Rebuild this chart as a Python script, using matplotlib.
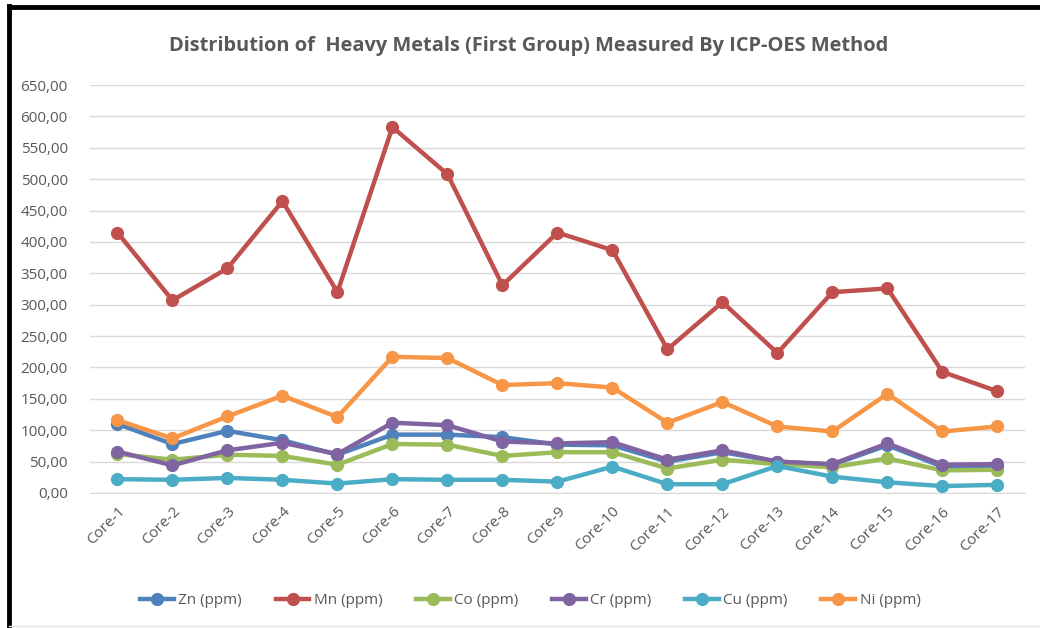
import numpy as np
import matplotlib.pyplot as plt
from matplotlib.lines import Line2D
from matplotlib.ticker import FuncFormatter

cores = ["Core-%d" % i for i in range(1, 18)]
zn = [110, 78, 99, 84, 61, 93, 93, 89, 77, 76, 50, 65, 50, 45, 76, 42, 42]
mn = [415, 307, 358, 465, 320, 583, 508, 331, 415, 387, 229, 304, 223, 320, 326, 193, 162]
co = [62, 53, 61, 59, 45, 78, 77, 59, 65, 65, 39, 53, 46, 41, 55, 36, 37]
cr = [66, 44, 68, 80, 62, 112, 108, 82, 79, 81, 53, 68, 50, 46, 79, 45, 46]
cu = [22, 21, 24, 21, 15, 22, 21, 21, 18, 42, 14, 14, 43, 26, 17, 11, 13]
ni = [116, 87, 122, 155, 121, 217, 215, 172, 175, 168, 112, 145, 106, 98, 158, 98, 106]

series = [("Zn (ppm)", zn, "#4F81BD"),
          ("Mn (ppm)", mn, "#C0504D"),
          ("Co (ppm)", co, "#9BBB59"),
          ("Cr (ppm)", cr, "#8064A2"),
          ("Cu (ppm)", cu, "#4BACC6"),
          ("Ni (ppm)", ni, "#F79646")]

plt.rcParams['font.family'] = ['Open Sans', 'DejaVu Sans']
txt = "#595959"

fig = plt.figure(figsize=(10.4, 6.28), dpi=100)
ax = fig.add_axes([0.0865, 0.215, 0.899, 0.6495])

x = np.arange(len(cores))
for name, vals, col in series:
    ax.plot(x, vals, color=col, lw=3.2, marker='o', ms=8.5, label=name,
            solid_capstyle='round')

ax.set_xlim(-0.5, len(cores) - 0.5)
ax.set_ylim(0, 650)
ax.set_yticks(np.arange(0, 651, 50))
ax.yaxis.set_major_formatter(FuncFormatter(lambda v, p: ("%.2f" % v).replace(".", ",")))
ax.set_xticks(x)
ax.set_xticklabels(cores, rotation=45, ha='right', rotation_mode='anchor')
ax.tick_params(axis='both', length=0, colors=txt, labelsize=11)
ax.tick_params(axis='x', pad=8)
ax.tick_params(axis='y', pad=16)
ax.grid(axis='y', color='#D9D9D9', lw=1)
ax.set_axisbelow(True)
for s in ['top', 'right', 'left']:
    ax.spines[s].set_visible(False)
ax.spines['bottom'].set_color('#D9D9D9')

fig.suptitle("Distribution of  Heavy Metals (First Group) Measured By ICP-OES Method",
             x=0.508, y=0.943, fontsize=14.4, color=txt, fontweight='bold')

handles = [Line2D([], [], color=c, lw=3.2, marker='o', ms=8.5) for _, _, c in series]
fig.legend(handles, [n for n, _, _ in series], loc='center', ncol=6,
           bbox_to_anchor=(0.51, 0.044), frameon=False, fontsize=11,
           labelcolor=txt, handlelength=2.2, columnspacing=2.2, handletextpad=0.3)

# black frame on left and top, faint line at bottom
fig.add_artist(Line2D([0.0085, 0.0085], [0, 0.99], color='black', lw=3.5, transform=fig.transFigure))
fig.add_artist(Line2D([0.0085, 1], [0.989, 0.989], color='black', lw=3.5, transform=fig.transFigure))
fig.add_artist(Line2D([0.0085, 1], [0.003, 0.003], color='#E0E0E0', lw=1, transform=fig.transFigure))

fig.savefig("out.png", dpi=100)
